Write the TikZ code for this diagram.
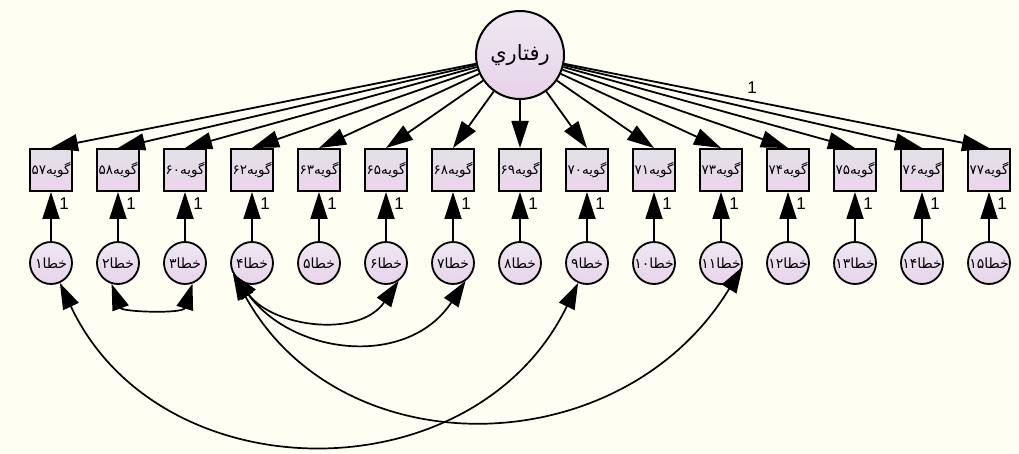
\documentclass[tikz,border=0pt]{standalone}
\usepackage{fontspec}
\setmainfont{Liberation Sans}
\newfontfamily\arabicfont[Script=Arabic]{DejaVu Sans}
\TeXXeTstate=1
\usetikzlibrary{arrows.meta}
\definecolor{bgc}{RGB}{254,254,242}
\definecolor{boxtop}{RGB}{226,225,230}
\definecolor{boxbot}{RGB}{236,212,236}
\definecolor{circtop}{RGB}{238,232,242}
\definecolor{circbot}{RGB}{232,210,234}
\newcommand{\falabel}[2]{{\arabicfont\beginR #1\beginL #2\endL\endR}}
\tikzset{
  itembox/.style={draw, line width=2pt, minimum width=42pt, minimum height=42pt, inner sep=0pt,
    top color=boxtop, bottom color=boxbot, font=\fontsize{13.5}{13.5}\selectfont},
  errcirc/.style={circle, draw, line width=1.8pt, minimum size=42pt, inner sep=0pt,
    top color=circtop, bottom color=circbot, font=\fontsize{14}{14}\selectfont},
  latcirc/.style={circle, draw, line width=2pt, minimum size=88pt, inner sep=0pt,
    top color=circtop, bottom color=circbot, font=\fontsize{21}{21}\selectfont},
  arr/.style={line width=1.8pt, -{Triangle[length=27pt,width=17pt]}},
  cov/.style={line width=1.7pt, {Triangle[length=26pt,width=17pt]}-{Triangle[length=26pt,width=17pt]}},
  onelab/.style={font=\fontsize{17}{17}\selectfont, inner sep=0pt}
}
\begin{document}
\begin{tikzpicture}[x=1pt,y=-1pt]
\fill[bgc] (0,0) rectangle (1019,454);
\useasboundingbox (0,0) rectangle (1019,454);
\node[latcirc] (F) at (520,55) {\arabicfont\beginR رفتاري\endR};
\foreach \d/\e [count=\i] in {۵۷/۱,۵۸/۲,۶۰/۳,۶۲/۴,۶۳/۵,۶۵/۶,۶۸/۷,۶۹/۸,۷۰/۹,۷۱/۱۰,۷۳/۱۱,۷۴/۱۲,۷۵/۱۳,۷۶/۱۴,۷۷/۱۵}{
  \pgfmathsetmacro{\xx}{51+(\i-1)*67}
  \node[itembox] (b\i) at (\xx,170) {\falabel{گويه}{\d}};
  \node[errcirc] (e\i) at (\xx,263) {\falabel{خطا}{\e}};
  \node[onelab] (o\i) at (\xx+13,204) {1};
  \draw[arr] (F) -- (b\i.north);
  \draw[arr] (e\i) -- (b\i);
}
\node[onelab] (top1) at (752,88) {1};
\draw[cov] (e2.-107) .. controls (122,312) and (183,314) .. (e3.-70);
\draw[cov] (e4.-150) .. controls (274,328) and (360,338) .. (e6.-55);
\draw[cov] (e4.-150) .. controls (294,356) and (408,368) .. (e7.-55);
\draw[cov] (e4.-150) .. controls (341,470) and (622,465) .. (e11.-10);
\draw[cov] (e1.-66) .. controls (160,496) and (475,496) .. (e9.-114);
\end{tikzpicture}
\end{document}
